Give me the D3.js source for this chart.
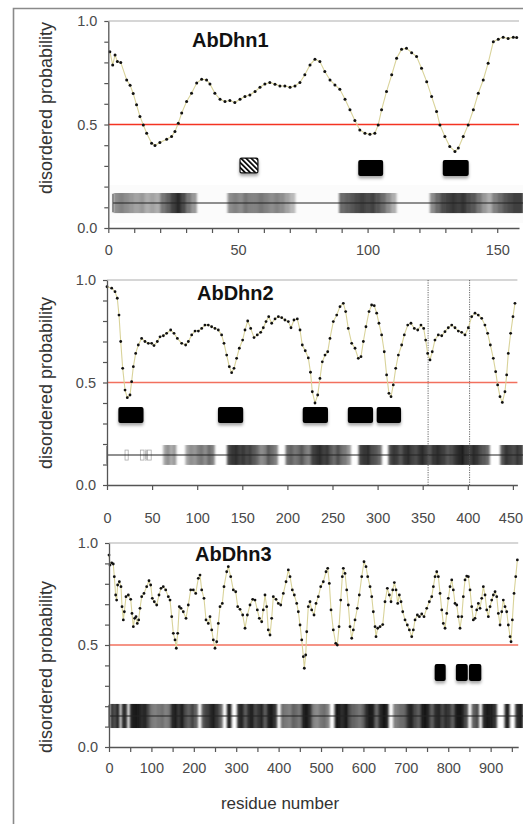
<!DOCTYPE html>
<html><head><meta charset="utf-8">
<script src="https://cdn.jsdelivr.net/npm/d3@7"></script>
<style>body{margin:0;background:#fff}svg{display:block}</style>
</head><body>
<svg id="c" width="523" height="824"></svg>
<script>
// ---------- DATA ----------
const yTickVals = [0,0.1,0.2,0.3,0.4,0.5,0.6,0.7,0.8,0.9,1.0];
const yLabelVals = [0,0.5,1.0];
const yLabelText = ["0.0","0.5","1.0"];

const titles = ["AbDhn1","AbDhn2","AbDhn3"];
const xAxisTitle = "residue number";
const yAxisTitle = "disordered probability";

const dhn1XTicks = [0,10,20,30,40,50,60,70,80,90,100,110,120,130,140,150];
const dhn1XLabels = [0,50,100,150];
const dhn2XTicks = [0,50,100,150,200,250,300,350,400,450];
const dhn2XLabels = [0,50,100,150,200,250,300,350,400,450];
const dhn3XTicks = [0,50,100,150,200,250,300,350,400,450,500,550,600,650,700,750,800,850,900,950];
const dhn3XLabels = [0,100,200,300,400,500,600,700,800,900];

// [residue, disordered probability]
const dhn1Points = [[0.6,0.852],[1.7,0.788],[2.6,0.836],[3.5,0.804],[4.8,0.80],[7.1,0.715],[8.4,0.69],[9.6,0.65],[10.9,0.595],[12.2,0.539],[13.5,0.498],[14.8,0.458],[16.7,0.41],[18,0.399],[19.9,0.413],[22.5,0.429],[24.4,0.442],[25.7,0.466],[27,0.506],[28.3,0.555],[30.2,0.611],[32.1,0.651],[34.1,0.70],[36,0.719],[37.9,0.715],[39.2,0.696],[41.1,0.651],[43.1,0.622],[45,0.611],[46.9,0.616],[48.8,0.606],[50.8,0.622],[52.7,0.635],[54.6,0.643],[56.6,0.659],[58.5,0.68],[60.4,0.696],[62.3,0.703],[64.3,0.695],[66.2,0.686],[68.1,0.686],[70.1,0.68],[72,0.686],[73.9,0.703],[75.8,0.74],[77.8,0.788],[79.7,0.815],[81.6,0.804],[83.5,0.756],[85.5,0.715],[87.4,0.691],[89.3,0.67],[91.3,0.622],[93.2,0.571],[95.1,0.519],[97,0.474],[99,0.458],[100.9,0.453],[102.8,0.458],[104.1,0.498],[105.4,0.571],[107.3,0.659],[109.3,0.74],[111.2,0.82],[113.1,0.863],[115,0.868],[117,0.847],[118.9,0.828],[120.8,0.772],[122.8,0.707],[124.7,0.635],[126.6,0.563],[127.9,0.498],[129.8,0.442],[131.7,0.394],[133.7,0.37],[135,0.386],[136.9,0.442],[138.8,0.498],[140.8,0.571],[142.7,0.651],[144.6,0.715],[146.5,0.796],[148.5,0.90],[150.4,0.912],[152.3,0.921],[154.2,0.916],[156.2,0.921],[157.5,0.92]];

const dhn2Points = [[0,.967],[5.2,.96],[8.9,.943],[11.4,.911],[13.3,.829],[15.2,.70],[17.4,.569],[20,.463],[22.5,.426],[25.5,.439],[27.3,.504],[29.2,.577],[31.8,.642],[34.7,.683],[38.4,.715],[42.1,.70],[45.8,.691],[49.5,.691],[52.1,.68],[55.8,.70],[58.8,.723],[62.5,.728],[66.1,.74],[70.6,.756],[74.3,.74],[78,.715],[82.8,.691],[87.2,.683],[90.2,.70],[93.9,.732],[97.6,.751],[101.3,.751],[105,.764],[108.6,.78],[112.3,.78],[116,.772],[119.7,.764],[123.4,.756],[127.1,.732],[129.7,.691],[132.7,.634],[135.6,.577],[138.2,.548],[140.8,.569],[143.7,.618],[146.7,.667],[150.4,.707],[153,.756],[156,.80],[159.3,.764],[163,.719],[166.6,.732],[170.4,.745],[173.3,.767],[176.3,.797],[179.3,.821],[182.6,.789],[186.3,.81],[190,.821],[193.7,.816],[197.3,.805],[201,.797],[204,.767],[207.3,.805],[211,.81],[214,.756],[216.5,.683],[219.8,.655],[223.2,.62],[225.6,.55],[227.6,.455],[230.6,.40],[233.6,.439],[236.1,.52],[238.7,.601],[241.7,.634],[244.7,.65],[247.2,.715],[250.9,.797],[254.7,.829],[258.3,.87],[262,.886],[264.6,.846],[267.5,.764],[271.3,.691],[275,.667],[278.6,.618],[281.6,.626],[284.2,.70],[287.1,.772],[290.5,.846],[293.4,.878],[296.3,.875],[299,.838],[301.5,.789],[304.5,.732],[307.4,.65],[310,.537],[312.6,.447],[314.9,.431],[317.4,.488],[320.1,.569],[323,.634],[326.7,.683],[329.6,.732],[333.4,.78],[337,.789],[340.7,.764],[344.5,.756],[348.1,.78],[351.1,.764],[353.3,.707],[355.5,.642],[358.1,.61],[360.6,.65],[363.6,.707],[367.3,.732],[371.1,.728],[374.7,.748],[378.4,.767],[382.2,.78],[385.8,.767],[389.5,.751],[393.2,.745],[396.9,.732],[400.6,.767],[404.3,.821],[408,.838],[411.6,.829],[415.4,.813],[419,.78],[422,.74],[425,.683],[428.3,.618],[430.9,.553],[433.1,.488],[435.7,.431],[438.3,.403],[441.2,.455],[443.1,.537],[444.9,.642],[447.5,.74],[450.1,.821],[452.3,.886]];

const dhn3Points = [[0,.941],[2.4,.892],[6.4,.903],[10.1,.897],[12.5,.835],[15.7,.745],[18,.72],[20.4,.794],[24.4,.81],[28.3,.786],[30.7,.688],[33.8,.623],[36.2,.663],[40.1,.737],[45.6,.745],[51.2,.724],[54.2,.655],[57.4,.59],[60.6,.631],[63.7,.639],[66.7,.606],[70,.623],[73.1,.68],[77.1,.737],[82.5,.753],[88.9,.786],[94.3,.815],[98.3,.794],[102.1,.729],[106.8,.712],[112.5,.696],[117.9,.745],[122.6,.778],[128,.786],[133.7,.77],[139.9,.737],[143.9,.72],[147.9,.639],[151.7,.557],[155.7,.525],[158.7,.484],[162,.557],[165.8,.688],[169.8,.68],[175.2,.663],[181.6,.631],[187,.696],[192.7,.77],[198.8,.77],[204.5,.753],[210.6,.827],[214.6,.843],[218.6,.77],[224,.729],[228.8,.623],[234.2,.606],[238.2,.639],[242.2,.574],[246,.525],[250,.484],[254,.516],[257.8,.606],[261.8,.688],[267.2,.704],[271.2,.786],[277.6,.859],[281.4,.884],[287,.835],[293.2,.77],[298.8,.761],[303.5,.688],[309,.675],[315.3,.647],[320.8,.582],[326.3,.647],[332.5,.696],[338.9,.724],[344.3,.72],[349.8,.672],[354.5,.631],[360.1,.614],[363.9,.672],[367.9,.745],[371.9,.688],[375.6,.574],[379.7,.549],[383.7,.631],[387.5,.737],[393.9,.724],[399.3,.704],[405,.696],[411.1,.753],[417.5,.81],[422.9,.868],[426.9,.835],[432.3,.77],[437,.745],[442.7,.704],[446.5,.663],[450.5,.598],[454.5,.525],[458.3,.443],[460.6,.386],[463.9,.451],[466.3,.565],[470,.688],[474,.712],[478,.672],[483.5,.647],[488.2,.704],[493.6,.737],[499.3,.786],[505.4,.81],[511.8,.859],[515.8,.876],[519.6,.802],[523.6,.672],[529,.574],[534.7,.508],[538.4,.50],[542.5,.59],[546.5,.72],[550.2,.835],[552.6,.876],[556.6,.851],[560.6,.77],[564.4,.696],[568.4,.59],[572.4,.533],[576.2,.574],[580.2,.623],[585.6,.68],[590.3,.745],[596,.835],[601.4,.908],[606.1,.884],[610.1,.835],[615.6,.786],[619.6,.737],[623.3,.663],[627.4,.59],[629.7,.541],[633.7,.582],[639.2,.59],[645.5,.60],[650.9,.712],[656.4,.778],[661.1,.745],[665.1,.712],[669.1,.77],[672.9,.806],[676.9,.77],[680.9,.704],[684.7,.745],[688.7,.712],[692.7,.663],[698.1,.623],[703.5,.598],[708.3,.574],[713.9,.541],[717.7,.574],[721.7,.623],[727.2,.647],[731.9,.639],[737.5,.652],[742.9,.639],[749.3,.68],[755.4,.712],[761.1,.737],[764.9,.786],[768.9,.835],[772.9,.859],[776.7,.835],[780.7,.753],[784.7,.672],[788.4,.606],[792.5,.582],[796.5,.655],[800.2,.729],[804.2,.786],[808.3,.819],[812,.77],[816,.704],[820.1,.696],[823.8,.639],[827.8,.582],[831.9,.639],[835.6,.737],[839.6,.819],[843.6,.838],[847.4,.835],[851.4,.77],[855.4,.688],[859.2,.623],[863.2,.631],[867.2,.672],[871,.704],[875,.68],[879,.729],[882.8,.786],[886.8,.745],[890.8,.672],[894.6,.639],[898.6,.688],[902.6,.72],[906.4,.745],[910.4,.761],[914.4,.737],[918.2,.655],[922.2,.598],[926.2,.663],[929.9,.72],[933.9,.688],[937.9,.663],[941.7,.598],[945.8,.541],[948.1,.516],[951.2,.623],[955.2,.753],[959.2,.835],[963,.917]];

// motif boxes [start residue, end residue]
const dhn1Boxes = [[96.4,106],[129,139]];
const dhn1Hatched = [[50.8,57.7]];
const dhn2Boxes = [[12.6,40.5],[123,151],[217,245],[267,295],[299,326]];
const dhn3Boxes = [[768,794],[818,846],[849,878]];

// shaded bands: start residue, residues per cell, darkness per cell (0 white .. 1 black)
const dhn1Bands = [
  {start:2, step:2, shades:[0.45,0.5,0.45,0.4,0.35,0.4,0.3,0.35,0.3,0.55,0.65,0.8,0.9,0.75,0.55,0.4]},
  {start:46, step:2, shades:[0.45,0.5,0.45,0.55,0.5,0.5,0.55,0.5,0.45,0.5,0.45,0.35,0.25]},
  {start:89, step:2, shades:[0.6,0.65,0.7,0.75,0.8,0.75,0.8,0.7,0.6,0.45,0.3]},
  {start:124, step:2, shades:[0.45,0.6,0.75,0.8,0.85,0.8,0.85,0.75,0.7,0.55,0.4,0.3,0.5,0.6,0.7,0.75,0.8,0.8]}
];
const dhn2Bands = [
  {start:62.4, step:3.5, shades:[0.35,0.45,0.3,0.4]},
  {start:87, step:4, shades:[0.35,0.45,0.4,0.5,0.55,0.45,0.6,0.5]},
  {start:133, step:4, shades:[0.75,0.85,0.9,0.8,0.85,0.75,0.8,0.7,0.6,0.45,0.5,0.7,0.6,0.5]},
  {start:198, step:4, shades:[0.6,0.65,0.55,0.6,0.7,0.55,0.5,0.8,0.85,0.9,0.8,0.85,0.7,0.6,0.75,0.6,0.55,0.4]},
  {start:279, step:4.2, shades:[0.8,0.85,0.9,0.75,0.7,0.6]},
  {start:312, step:4, shades:[0.75,0.85,0.8,0.7,0.85,0.9,0.8,0.75,0.85,0.9,0.8,0.7,0.85,0.9,0.85,0.8,0.7,0.75,0.85,0.9,0.95,0.85,0.8,0.9,0.85,0.75,0.7,0.6]},
  {start:436, step:4.2, shades:[0.7,0.85,0.8,0.75,0.85,0.8]}
];
const dhn2SmallMarks = [[20,23.5],[37,41],[42.5,43.5],[45,49]];
const dhn2Guides = [356,402];
const dhn3Bands = [
  {start:3, step:7, shades:[0.9,0.75,0.95]},
  {start:30, step:6, shades:[0.95,0.9]},
  {start:49, step:8, shades:[0.95,1,0.95,0.9,0.95,0.75,0.55,0.5,0.55,0.6,0.5,0.55,0.9,0.95,0.85,0.95,0.75,0.65,0.8,0.65]},
  {start:218, step:8.2, shades:[0.7,0.8,0.9,0.95,0.85,0.65]},
  {start:278, step:10, shades:[0.95]},
  {start:302, step:7.8, shades:[0.9,0.95,0.65,0.9,1,0.75,0.85,0.95,0.65,0.95,1,0.85]},
  {start:405, step:8.2, shades:[0.6,0.55,0.5,0.65,0.6,0.55,0.95,1,0.85,0.5,0.45,0.55,0.6,0.5]},
  {start:532, step:7.9, shades:[1,0.95,0.9,1,0.75,0.65,0.6,0.55,0.65,0.9,1,0.95,0.6,0.9,1,0.95]},
  {start:670, step:8, shades:[0.5,0.55,0.6,0.65,0.9,0.95,0.75,0.65,0.95,1,0.9,0.65,0.9,0.95,0.75,0.9,0.85,0.65,0.95,1,0.95,0.75]},
  {start:855, step:8.5, shades:[0.65,0.75]},
  {start:880, step:8.5, shades:[0.9,1,0.95,0.85]},
  {start:933, step:11, shades:[0.95]},
  {start:958, step:9, shades:[0.9,0.95]}
];

// ---------- LAYOUT ----------
const panels = [
  {title:titles[0], pts:dhn1Points, boxes:dhn1Boxes, hatched:dhn1Hatched, bands:dhn1Bands, xTicks:dhn1XTicks, xLabels:dhn1XLabels,
   maxX:158.4, left:108.3, right:519, top:21, bottom:228, labPad:12, titleX:192, titleY:47, ylabY:108,
   red:"#f43322", boxV:[0.251,0.328], hatchV:[0.266,0.338], bandV:[0.072,0.169], lineV:0.121, lineStart:1.8, bgV:[0.024,0.208], r:1.5},
  {title:titles[1], pts:dhn2Points, boxes:dhn2Boxes, hatched:[], bands:dhn2Bands, xTicks:dhn2XTicks, xLabels:dhn2XLabels,
   maxX:455, left:107, right:517.4, top:280, bottom:485, labPad:23, titleX:197, titleY:300, ylabY:383,
   red:"#f2705e", boxV:[0.302,0.38], bandV:[0.098,0.195], lineV:0.146, lineStart:0, small:dhn2SmallMarks, guides:dhn2Guides, r:1.4},
  {title:titles[2], pts:dhn3Points, boxes:dhn3Boxes, hatched:[], bands:dhn3Bands, xTicks:dhn3XTicks, xLabels:dhn3XLabels,
   maxX:965, left:109, right:518.2, top:543, bottom:747, labPad:11, titleX:195, titleY:561, ylabY:667,
   red:"#f2705e", boxV:[0.324,0.407], bandV:[0.093,0.211], lineV:0.152, lineStart:0, r:1.4}
];

const W = 523, H = 824;
const FONT = "'Liberation Sans', Arial, sans-serif";
const svg = d3.select("#c");
const defs = svg.append("defs");
const sh = defs.append("filter").attr("id","shadow").attr("x","-40%").attr("y","-40%").attr("width","180%").attr("height","200%");
sh.append("feDropShadow").attr("dx",0).attr("dy",2.5).attr("stdDeviation",1.6).attr("flood-color","#000").attr("flood-opacity",0.35);
const bl = defs.append("filter").attr("id","blur").attr("x","-10%").attr("width","120%");
bl.append("feGaussianBlur").attr("stdDeviation","1.0 0.5");
const pat = defs.append("pattern").attr("id","hatch").attr("patternUnits","userSpaceOnUse")
  .attr("width",3.6).attr("height",3.6).attr("patternTransform","rotate(-45)");
pat.append("rect").attr("width",3.6).attr("height",3.6).attr("fill","#fff");
pat.append("rect").attr("width",1.8).attr("height",3.6).attr("fill","#111");

// outer frame
svg.append("path").attr("d",`M13.5,${H+5} V8.5 H${W+5}`).attr("fill","none").attr("stroke","#8a8a8a").attr("stroke-width",1.6);

const shadeColor = d => { const g = Math.round(240 - 220*d); return `rgb(${g},${g},${g})`; };

panels.forEach((p, pi) => {
  const x = d3.scaleLinear().domain([0,p.maxX]).range([p.left,p.right]);
  const y = d3.scaleLinear().domain([0,1]).range([p.bottom,p.top]);
  const g = svg.append("g");

  if (p.bgV) {
    g.append("rect").attr("x",p.left+1).attr("y",y(p.bgV[1])).attr("width",W-p.left).attr("height",y(p.bgV[0])-y(p.bgV[1])).attr("fill","#fbfbfb");
  }
  // gridline at 1.0
  g.append("line").attr("x1",p.left).attr("x2",p.right).attr("y1",y(1)).attr("y2",y(1)).attr("stroke","#c8c8c8").attr("stroke-width",1.5);

  // bands
  const bg = g.append("g").attr("filter","url(#blur)");
  p.bands.forEach(b => {
    b.shades.forEach((d,i) => {
      const x0 = x(b.start + i*b.step), x1 = x(b.start + (i+1)*b.step);
      bg.append("rect").attr("x",x0).attr("y",y(p.bandV[1])).attr("width",x1-x0+0.4).attr("height",y(p.bandV[0])-y(p.bandV[1])).attr("fill",shadeColor(d));
    });
  });
  if (p.small) {
    p.small.forEach(s => {
      g.append("rect").attr("x",x(s[0])).attr("y",y(p.lineV)-5).attr("width",Math.max(1,x(s[1])-x(s[0]))).attr("height",10)
        .attr("fill","none").attr("stroke","#aaa").attr("stroke-width",0.8);
    });
  }
  // backbone line
  g.append("line").attr("x1",x(p.lineStart)).attr("x2",W).attr("y1",y(p.lineV)).attr("y2",y(p.lineV)).attr("stroke","#222").attr("stroke-width",1.1);
  g.append("line").attr("x1",x(p.lineStart)).attr("x2",x(p.lineStart)).attr("y1",y(p.bandV[1])+1).attr("y2",y(p.bandV[0])-1).attr("stroke","#444").attr("stroke-width",1);

  // guides
  if (p.guides) {
    p.guides.forEach(v => g.append("line").attr("x1",x(v)).attr("x2",x(v)).attr("y1",y(1)).attr("y2",y(0))
      .attr("stroke","#555").attr("stroke-width",0.9).attr("stroke-dasharray","1.2,1.2"));
  }

  // boxes
  p.boxes.forEach(b => g.append("rect").attr("x",x(b[0])).attr("y",y(p.boxV[1])).attr("width",x(b[1])-x(b[0])).attr("height",y(p.boxV[0])-y(p.boxV[1]))
    .attr("rx",2).attr("fill","#000").attr("filter","url(#shadow)"));
  p.hatched.forEach(b => g.append("rect").attr("x",x(b[0])).attr("y",y(p.hatchV[1])).attr("width",x(b[1])-x(b[0])).attr("height",y(p.hatchV[0])-y(p.hatchV[1]))
    .attr("rx",1.5).attr("fill","url(#hatch)").attr("stroke","#111").attr("stroke-width",1.2).attr("filter","url(#shadow)"));

  // threshold
  g.append("line").attr("x1",p.left).attr("x2",p.right).attr("y1",y(0.5)).attr("y2",y(0.5)).attr("stroke",p.red).attr("stroke-width",1.6);

  // data
  const line = d3.line().x(d=>x(d[0])).y(d=>y(d[1]));
  g.append("path").datum(p.pts).attr("d",line).attr("fill","none").attr("stroke","#d9d39a").attr("stroke-width",1.1);
  g.selectAll(null).data(p.pts).join("circle").attr("cx",d=>x(d[0])).attr("cy",d=>y(d[1])).attr("r",p.r).attr("fill","#111");

  // axes
  const ya = g.append("g").attr("transform",`translate(${p.left},0)`)
    .call(d3.axisLeft(y).tickValues(yTickVals).tickSize(4).tickSizeOuter(0).tickPadding(7)
      .tickFormat(d => { const i = yLabelVals.findIndex(v => Math.abs(v-d)<1e-9); return i>=0 ? yLabelText[i] : ""; }));
  const xa = g.append("g").attr("transform",`translate(0,${p.bottom})`)
    .call(d3.axisBottom(x).tickValues(p.xTicks).tickSize(5).tickSizeOuter(0).tickPadding(p.labPad)
      .tickFormat(d => p.xLabels.includes(d) ? String(d) : ""));
  [ya,xa].forEach(a => {
    a.select(".domain").attr("stroke","#555").attr("stroke-width",1.3);
    a.selectAll(".tick line").attr("stroke","#555").attr("stroke-width",1.2);
    a.selectAll("text").attr("fill","#4a4a4a").style("font-family",FONT).style("font-size","14.5px");
  });
  // keep the right-most label inside the picture
  xa.selectAll(".tick text").each(function() {
    const bb = this.getBBox(), tx = x(+d3.select(this.parentNode).datum());
    const overflow = tx + bb.x + bb.width - (W - 0.5);
    if (overflow > 0) d3.select(this).attr("dx", -overflow);
  });

  // title
  g.append("text").attr("x",p.titleX).attr("y",p.titleY).text(p.title)
    .style("font-family",FONT).style("font-weight","bold").style("font-size","20px").attr("fill","#111");
  // y axis title
  g.append("text").attr("transform",`translate(46,${p.ylabY}) rotate(-90)`).attr("text-anchor","middle").attr("dominant-baseline","central")
    .text(yAxisTitle).style("font-family",FONT).style("font-size","18px").attr("fill","#333");
});

svg.append("text").attr("x",280).attr("y",809).attr("text-anchor","middle").text(xAxisTitle)
  .style("font-family",FONT).style("font-size","17px").attr("fill","#333");
</script>
</body></html>
